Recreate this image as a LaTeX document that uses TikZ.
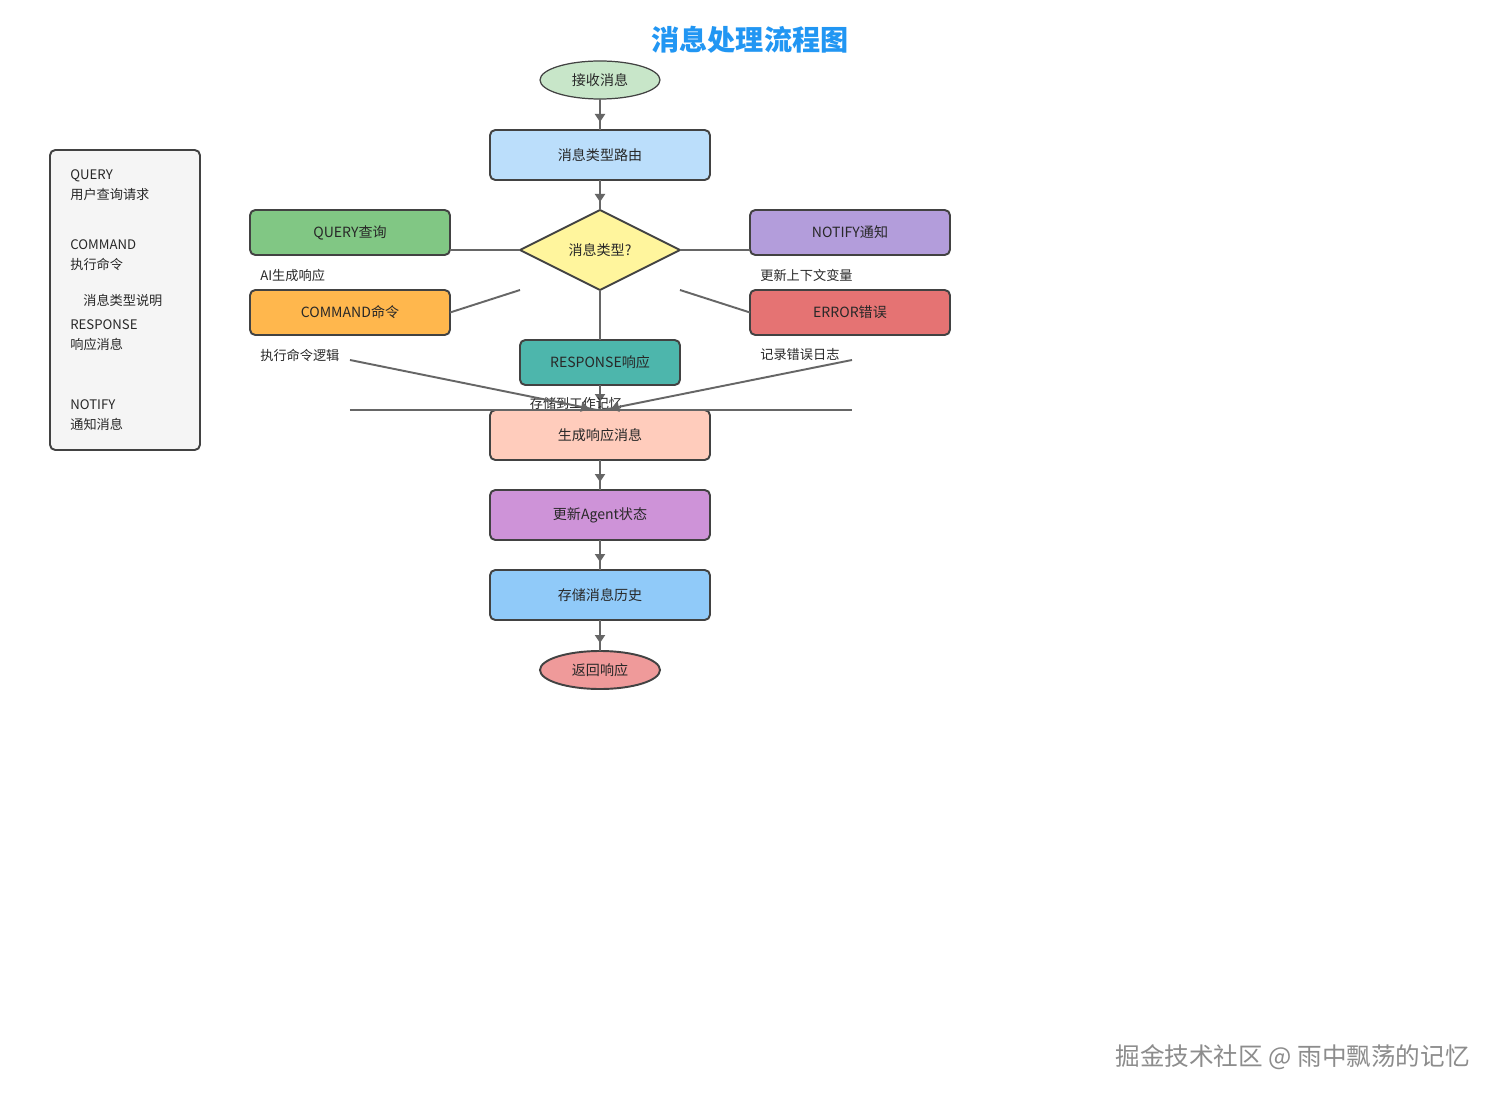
\documentclass[tikz,border=0pt]{standalone}
\usepackage{fontspec}
\setmainfont{Noto Sans CJK SC}
\usetikzlibrary{shapes.geometric, arrows.meta, positioning, calc, decorations.markings}
\definecolor{titleblue}{RGB}{33, 150, 243}
\definecolor{edgegray}{RGB}{102, 102, 102}
\definecolor{bordergray}{RGB}{66, 66, 66}
\definecolor{textdark}{RGB}{40, 40, 40}
\definecolor{legendgray}{RGB}{245, 245, 245}
\definecolor{startgreen}{HTML}{C8E6C9}
\definecolor{routeblue}{HTML}{BBDEFB}
\definecolor{decisionyellow}{HTML}{FFF59D}
\definecolor{querygreen}{HTML}{81C784}
\definecolor{cmdorange}{HTML}{FFB74D}
\definecolor{notifypurple}{HTML}{B39DDB}
\definecolor{errorred}{HTML}{E57373}
\definecolor{respteal}{HTML}{4DB6AC}
\definecolor{genpeach}{HTML}{FFCCBC}
\definecolor{agentpurple}{HTML}{CE93D8}
\definecolor{storeblue}{HTML}{90CAF9}
\definecolor{endpink}{HTML}{EF9A9A}

\begin{document}
\begin{tikzpicture}[
        node distance=0.6cm and 1.4cm,
        box/.style={rectangle, draw=bordergray, line width=1.1pt, outer sep=0pt, rounded corners=3pt, minimum width=4.4cm, minimum height=1cm, font=\fontsize{8}{10}\selectfont, text=textdark},
        branch/.style={box, minimum width=4cm, minimum height=0.9cm},
        terminal/.style={ellipse, draw=bordergray, line width=1.1pt, outer sep=0pt, minimum width=2.4cm, minimum height=0.76cm, inner sep=0pt, font=\fontsize{8}{10}\selectfont, text=textdark},
        decision/.style={diamond, aspect=2, draw=bordergray, line width=1.1pt, outer sep=0pt, minimum width=3.2cm, minimum height=1.6cm, inner sep=0pt, font=\fontsize{8}{10}\selectfont, text=textdark},
        lbl/.style={font=\fontsize{7.5}{9}\selectfont, text=textdark, inner sep=0pt},
        legendtext/.style={font=\fontsize{7.5}{11.3}\selectfont, text=textdark, align=left, inner sep=0pt, anchor=west},
        link/.style={edgegray, line width=1.1pt},
        arrow/.style={link, postaction={decorate}, decoration={markings, mark=at position -0.16cm with {\arrow{Triangle[width=0.2cm, length=0.16cm]}}}}
    ]

        % Canvas
        \fill[white] (-12,1.6) rectangle (18,-20.4);
        \useasboundingbox (-12,1.6) rectangle (18,-20.4);

        % Title
        \node[font=\fontsize{16}{18}\selectfont\bfseries, text=titleblue] (title) at (3,0.8) {消息处理流程图};

        % Nodes
        \node[terminal, fill=startgreen, line width=0.7pt] (recv) at (0,0) {接收消息};
        \node[box, fill=routeblue, below=0.62cm of recv] (route) {消息类型路由};
        \node[decision, fill=decisionyellow, below=of route] (kind) {消息类型?};
        \node[branch, fill=querygreen, left=of kind, yshift=0.35cm] (query) {QUERY查询};
        \node[branch, fill=cmdorange, below=0.7cm of query] (command) {COMMAND命令};
        \node[branch, fill=notifypurple, right=of kind, yshift=0.35cm] (notify) {NOTIFY通知};
        \node[branch, fill=errorred, below=0.7cm of notify] (error) {ERROR错误};
        \node[branch, fill=respteal, minimum width=3.2cm, below=1cm of kind] (resp) {RESPONSE响应};
        \node[box, fill=genpeach, below=0.5cm of resp] (gen) {生成响应消息};
        \node[box, fill=agentpurple, below=of gen] (agent) {更新Agent状态};
        \node[box, fill=storeblue, below=of agent] (store) {存储消息历史};
        \node[terminal, fill=endpink, below=0.62cm of store] (ret) {返回响应};

        % Branch notes
        \node[lbl, anchor=west] (querynote) at ([xshift=0.2cm, yshift=-0.4cm]query.south west) {AI生成响应};
        \node[lbl, anchor=west] (cmdnote) at ([xshift=0.2cm, yshift=-0.4cm]command.south west) {执行命令逻辑};
        \node[lbl, anchor=west] (notifynote) at ([xshift=0.2cm, yshift=-0.4cm]notify.south west) {更新上下文变量};
        \node[lbl, anchor=west] (errnote) at ([xshift=0.2cm, yshift=-0.4cm]error.south west) {记录错误日志};

        % Legend
        \node[draw=bordergray, line width=1.1pt, fill=legendgray, rounded corners=3pt, minimum width=3cm, minimum height=6cm] (legend) at (-9.5,-4.4) {};
        \node[legendtext] (legquery) at (-10.6,-2.1) {QUERY\\用户查询请求};
        \node[legendtext] (legcmd) at (-10.6,-3.5) {COMMAND\\执行命令};
        \node[legendtext] (legtitle) at (-10.34,-4.4) {消息类型说明};
        \node[legendtext] (legresp) at (-10.6,-5.1) {RESPONSE\\响应消息};
        \node[legendtext] (legnotify) at (-10.6,-6.7) {NOTIFY\\通知消息};

        % Watermark
        \node[anchor=east, inner sep=0pt, font=\fontsize{14}{16}\selectfont, text=black!45] (watermark) at (17.4,-19.54) {掘金技术社区 @ 雨中飘荡的记忆};

        % Connections
        \coordinate (kindsw) at (kind.west |- kind.south);
        \coordinate (kindse) at (kind.east |- kind.south);
        \coordinate (cmdtail) at ([yshift=-0.5cm]command.south);
        \coordinate (errtail) at ([xshift=0.04cm, yshift=-0.5cm]error.south);

        \draw[arrow] (recv) -- (route);
        \draw[arrow] (route) -- (kind);
        \draw[link] (kind.west) -- (kind.west -| query.east);
        \draw[link] (kind.east) -- (kind.east -| notify.west);
        \draw[link] (kindsw) -- (command.east);
        \draw[link] (kindse) -- (error.west);
        \draw[link] (kind) -- (resp);
        \draw[arrow] (resp) -- node[lbl, pos=0.75, xshift=-0.48cm] {存储到工作记忆} (gen);
        \draw[arrow] (cmdtail) -- ([xshift=-0.06cm]gen.north);
        \draw[arrow] (errtail) -- ([xshift=0.06cm]gen.north);
        \draw[link] (cmdtail |- gen.north) -- (errtail |- gen.north);
        \draw[arrow] (gen) -- (agent);
        \draw[arrow] (agent) -- (store);
        \draw[arrow] (store) -- (ret);
    \end{tikzpicture}
\end{document}
